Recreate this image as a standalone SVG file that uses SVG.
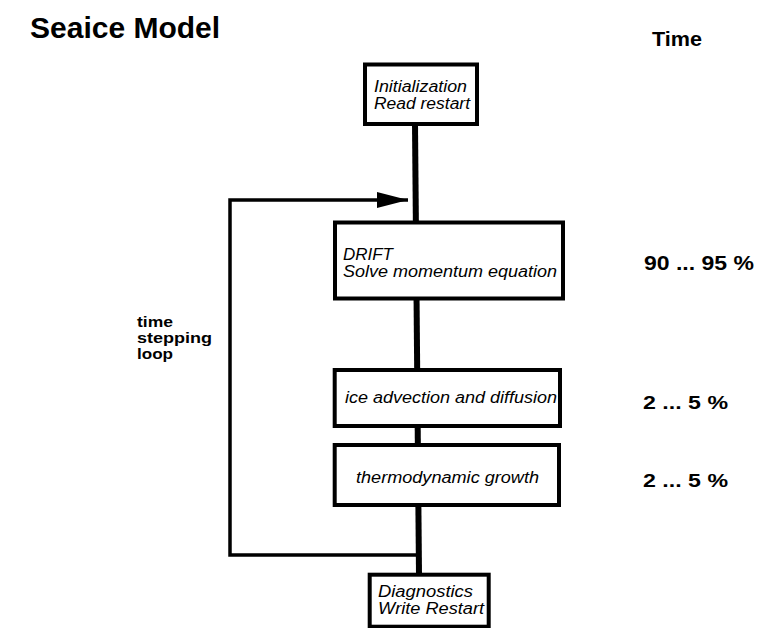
<svg xmlns="http://www.w3.org/2000/svg" width="760" height="628" viewBox="0 0 760 628">
<defs>
<style>
.box{fill:#fff;stroke:#000;stroke-width:4}
.bt{font-family:"Liberation Sans",Arial,sans-serif;font-style:italic;font-size:16px;fill:#000}
.lb{font-family:"Liberation Sans",Arial,sans-serif;font-weight:bold;fill:#000}
.ln{fill:none;stroke:#000;stroke-width:3.5}
.main{fill:none;stroke:#000;stroke-width:6}
</style>
<marker id="ah" markerUnits="userSpaceOnUse" markerWidth="32" markerHeight="18" refX="31" refY="8" orient="auto">
<path d="M0,0 L31,8 L0,16 z" fill="#000"/>
</marker>
</defs>
<rect width="760" height="628" fill="#fff"/>
<text class="lb" x="30" y="37.5" font-size="30">Seaice Model</text>
<text class="lb" x="652" y="46" font-size="20" textLength="50" lengthAdjust="spacingAndGlyphs">Time</text>
<g id="connectors">
<path class="main" d="M415,124 L419,575"/>
<path class="ln" d="M419,555 L230,555 L230,200 L408,200" marker-end="url(#ah)"/>
</g>
<g id="init">
<rect class="box" x="365" y="64.5" width="112" height="59.5"/>
<text class="bt" x="374" y="91.5" textLength="93" lengthAdjust="spacingAndGlyphs">Initialization</text>
<text class="bt" x="374" y="108.5" textLength="96" lengthAdjust="spacingAndGlyphs">Read restart</text>
</g>
<g id="drift">
<rect class="box" x="335" y="222.5" width="228" height="76"/>
<text class="bt" x="343" y="260" textLength="50" lengthAdjust="spacingAndGlyphs">DRIFT</text>
<text class="bt" x="343" y="277" textLength="214" lengthAdjust="spacingAndGlyphs">Solve momentum equation</text>
</g>
<g id="advection">
<rect class="box" x="334.7" y="370" width="225.3" height="56"/>
<text class="bt" x="345" y="403" textLength="212" lengthAdjust="spacingAndGlyphs">ice advection and diffusion</text>
</g>
<g id="thermo">
<rect class="box" x="334.7" y="445" width="224.3" height="60"/>
<text class="bt" x="356" y="483" textLength="183" lengthAdjust="spacingAndGlyphs">thermodynamic growth</text>
</g>
<g id="diag">
<rect class="box" x="369.7" y="574.7" width="119" height="52"/>
<text class="bt" x="378" y="597" textLength="95" lengthAdjust="spacingAndGlyphs">Diagnostics</text>
<text class="bt" x="378" y="614" textLength="106" lengthAdjust="spacingAndGlyphs">Write Restart</text>
</g>
<g id="loop-label">
<text class="lb" x="137" y="327" font-size="15" textLength="36" lengthAdjust="spacingAndGlyphs">time</text>
<text class="lb" x="137" y="343" font-size="15" textLength="75" lengthAdjust="spacingAndGlyphs">stepping</text>
<text class="lb" x="137" y="359" font-size="15" textLength="36" lengthAdjust="spacingAndGlyphs">loop</text>
</g>
<g id="times">
<text class="lb" x="644" y="269.5" font-size="20" textLength="110" lengthAdjust="spacingAndGlyphs">90 ... 95 %</text>
<text class="lb" x="643" y="409" font-size="19" textLength="85" lengthAdjust="spacingAndGlyphs">2 ... 5 %</text>
<text class="lb" x="643" y="487" font-size="19" textLength="85" lengthAdjust="spacingAndGlyphs">2 ... 5 %</text>
</g>
</svg>
